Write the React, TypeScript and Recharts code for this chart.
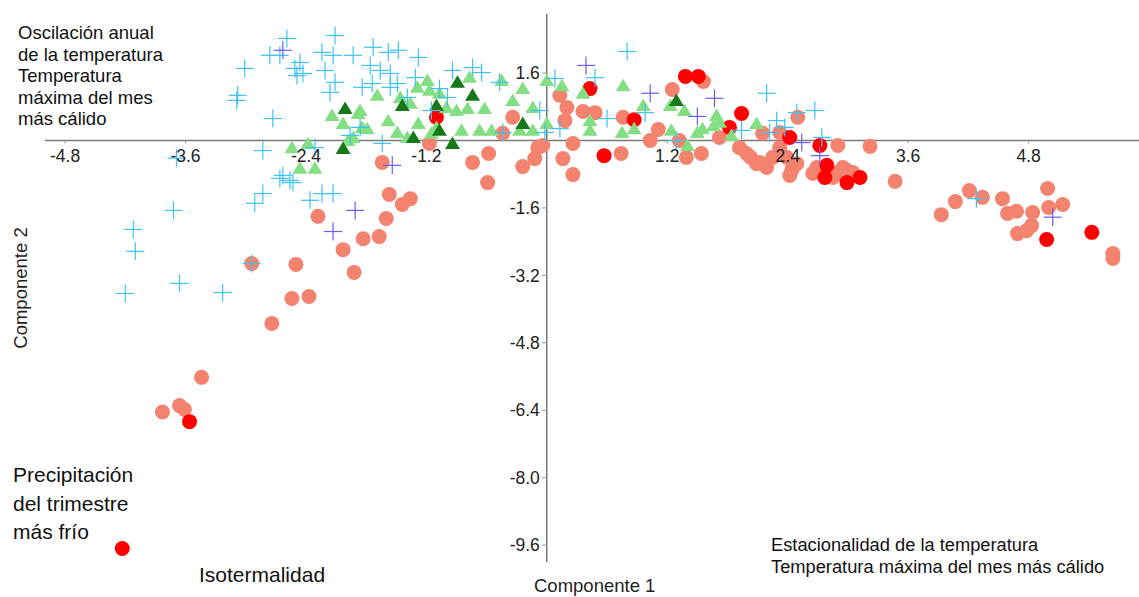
import React from 'react';
import { ScatterChart, Scatter, XAxis, YAxis, ReferenceLine, ReferenceDot } from 'recharts';

// values, [componente 1, componente 2]
const salmonPoints: [number, number][] = [
  [-3.83, -6.44], [-3.66, -6.29], [-3.61, -6.38], [-3.44, -5.62], [-2.74, -4.34], [-2.54, -3.75],
  [-2.37, -3.7], [-2.94, -2.92], [-2.5, -2.94], [-2.28, -1.8], [-2.03, -2.59], [-1.92, -3.13],
  [-1.83, -2.33], [-1.67, -2.28], [-1.6, -1.85], [-1.57, -1.28], [-1.44, -1.52], [-1.36, -1.38],
  [-1.64, -0.52], [-1.17, -0.07], [-0.74, -0.52], [-0.58, -0.31], [-0.59, -1.0], [-0.24, -0.62],
  [-0.12, -0.43], [-0.09, -0.17], [-0.04, -0.12], [-0.44, 0.17], [-0.34, 0.55], [0.13, 1.07],
  [0.2, 0.78], [0.18, 0.47], [0.36, 0.69], [0.48, 0.66], [0.26, -0.07], [0.16, -0.43],
  [0.26, -0.81], [0.74, -0.31], [0.76, 0.55], [1.03, 0.0], [1.11, 0.26], [1.25, 1.21],
  [1.56, 1.4], [1.32, 0.0], [1.39, -0.4], [1.54, -0.31], [1.72, 0.07], [1.92, -0.17],
  [1.99, -0.31], [2.12, -0.52], [2.19, -0.64], [2.25, -0.4], [2.32, -0.17], [2.45, -0.64],
  [2.5, 0.55], [2.9, -0.12], [2.65, -0.78], [2.89, -0.78], [2.99, -0.71], [3.22, -0.14],
  [2.03, -0.4], [2.09, -0.55], [2.15, 0.17], [2.32, 0.19], [2.39, -0.4], [2.44, -0.71],
  [2.42, -0.83], [2.49, -0.55], [2.69, -0.64], [2.77, -0.83], [2.85, -0.88], [2.95, -0.64],
  [3.05, -0.76], [3.47, -0.97], [3.93, -1.76], [4.07, -1.45], [4.21, -1.19], [4.34, -1.35],
  [4.54, -1.38], [4.59, -1.73], [4.68, -1.68], [4.69, -2.21], [4.78, -2.14], [4.83, -2.02],
  [4.84, -1.71], [4.99, -1.14], [5.0, -1.59], [5.14, -1.52], [5.64, -2.68], [5.64, -2.8],
];

const redPoints: [number, number][] = [
  [-3.56, -6.67], [-4.23, -9.68], [-1.1, 0.55], [0.43, 1.23], [0.57, -0.36], [0.87, 0.49],
  [1.38, 1.52], [1.51, 1.52], [1.82, 0.31], [1.94, 0.64], [2.42, 0.07], [2.72, -0.12],
  [2.79, -0.59], [2.77, -0.88], [2.99, -1.0], [3.12, -0.88], [4.98, -2.35], [5.43, -2.18],
];

const lightGreenPoints: [number, number][] = [
  [-2.14, 0.59], [-1.88, 0.64], [-2.03, 0.4], [-1.84, 0.31], [-1.79, 0.28], [-1.93, 0.07],
  [-1.98, 0.0], [-2.54, -0.17], [-2.38, -0.07], [-2.46, -0.66], [-2.31, -0.66], [-1.69, 1.07],
  [-1.86, 0.71], [-1.58, 0.47], [-1.49, 0.19], [-1.46, 1.02], [-1.36, 0.88], [-1.29, 1.26],
  [-1.28, 0.4], [-1.19, 1.42], [-1.17, 1.19], [-1.07, 1.12], [-1.0, 0.78], [-1.15, 0.17],
  [-1.1, 0.31], [-0.9, 0.71], [-0.85, 0.24], [-0.79, 0.76], [-0.77, 1.5], [-0.62, 0.76],
  [-0.67, 0.24], [-0.55, 0.24], [-0.45, 1.42], [-0.34, 0.95], [-0.24, 1.23], [-0.14, 0.78],
  [0.0, 1.42], [0.0, 0.4], [-0.27, 0.24], [-0.14, 0.24], [0.43, 0.47], [0.43, 0.24],
  [-1.39, 0.07], [0.15, 1.3], [0.36, 1.12], [0.76, 1.3], [0.75, 0.19], [0.87, 0.28],
  [0.96, 0.83], [1.23, 0.83], [1.37, 0.71], [1.5, 0.19], [1.55, 0.28], [1.4, -0.12],
  [1.69, 0.59], [1.72, 0.43], [1.84, 0.12], [2.09, 0.4], [1.24, 0.24], [1.66, 0.35],
];

const darkGreenPoints: [number, number][] = [
  [-2.01, 0.76], [-2.03, -0.19], [-1.44, 0.83], [-1.1, 0.83], [-1.07, 0.24], [-0.89, 1.38],
  [-0.74, 1.07], [-1.33, 0.07], [-0.94, -0.07], [-0.24, 0.4], [1.29, 0.95],
];

const lightBluePoints: [number, number][] = [
  [-4.12, -2.11], [-4.1, -2.63], [-4.2, -3.63], [-3.66, -3.39], [-3.23, -3.61], [-2.94, -2.92],
  [-3.72, -1.66], [-3.69, -0.42], [-2.83, -0.24], [-2.63, -0.83], [-2.56, -0.95], [-2.66, -0.9],
  [-2.53, -1.0], [-2.83, -1.26], [-2.91, -1.49], [-2.36, -1.42], [-2.24, -1.26], [-2.13, -1.26],
  [-2.31, -0.17], [-3.01, 1.71], [-3.08, 1.07], [-3.09, 0.95], [-2.73, 0.52], [-2.59, 2.42],
  [-2.76, 2.02], [-2.66, 2.02], [-2.51, 1.71], [-2.46, 1.85], [-2.49, 1.54], [-2.43, 1.59],
  [-2.11, 2.49], [-2.24, 2.09], [-2.13, 2.02], [-1.93, 2.02], [-1.73, 2.21], [-2.21, 1.66],
  [-2.11, 1.38], [-2.16, 1.14], [-1.84, 1.26], [-1.74, 1.35], [-1.86, 0.31], [-1.58, 2.09],
  [-1.48, 2.14], [-1.28, 1.97], [-1.76, 1.78], [-1.66, 1.66], [-1.56, 1.59], [-1.49, 1.35],
  [-1.56, 1.26], [-1.39, 1.02], [-1.31, 1.49], [-0.94, 1.66], [-0.74, 1.73], [-0.65, 1.61],
  [-1.07, 1.23], [-0.99, 1.02], [-1.15, 0.71], [-0.47, 1.38], [-0.07, 0.71], [-0.02, 0.19],
  [-0.44, 0.19], [-1.64, -0.07], [-1.96, 0.12], [0.08, 1.47], [0.48, 1.49], [0.8, 2.11],
  [0.98, 0.66], [0.6, 0.52], [0.13, 0.28], [2.19, 1.12], [2.29, 0.47], [2.37, 0.31],
  [2.49, 0.66], [2.67, 0.71], [2.74, 0.07], [1.29, 0.0], [1.94, 0.24], [2.22, 0.19],
  [4.28, -1.38],
];

const purplePoints: [number, number][] = [
  [-2.63, 2.14], [-1.91, -1.66], [-2.13, -2.16], [-1.54, -0.59], [0.39, 1.78], [1.03, 1.12],
  [1.67, 1.0], [1.5, 0.57], [2.54, -0.05], [2.72, -0.36], [5.04, -1.82],
];

const xTicks = [-4.8, -3.6, -2.4, -1.2, 1.2, 2.4, 3.6, 4.8];
const yTicks = [1.6, -1.6, -3.2, -4.8, -6.4, -8.0, -9.6];

const toRows = (pts: [number, number][]) => pts.map(([x, y]) => ({ x, y }));

const FONT = 'Arial, "Liberation Sans", sans-serif';

const circleShape = (color: string) => (p: any) => (
  <circle cx={p.cx} cy={p.cy} r={7.5} fill={color} />
);

const triangleShape = (color: string) => (p: any) => (
  <polygon
    points={`${p.cx},${p.cy - 7} ${p.cx - 7.5},${p.cy + 5.5} ${p.cx + 7.5},${p.cy + 5.5}`}
    fill={color}
  />
);

const crossShape = (color: string) => (p: any) => (
  <g stroke={color} strokeWidth={1.2}>
    <line x1={p.cx - 9} y1={p.cy} x2={p.cx + 9} y2={p.cy} />
    <line x1={p.cx} y1={p.cy - 9} x2={p.cx} y2={p.cy + 9} />
  </g>
);

const textStyle: React.CSSProperties = {
  position: 'absolute',
  fontFamily: FONT,
  color: '#111',
  whiteSpace: 'nowrap',
};

export default function App() {
  return (
    <div style={{ position: 'absolute', left: 0, top: 0, width: 1139, height: 597, background: '#fff', overflow: 'hidden' }}>
      <ScatterChart width={1139} height={597} margin={{ top: 14, right: 0, bottom: 35, left: 45 }}>
        <XAxis type="number" dataKey="x" domain={[-5, 5.9]} allowDataOverflow hide />
        <YAxis type="number" dataKey="y" domain={[-10, 3]} allowDataOverflow hide />

        <ReferenceLine y={0} stroke="#7a7a7a" strokeWidth={1.5} />
        <ReferenceLine x={0} stroke="#333" strokeWidth={1} />

        {xTicks.map((t) => (
          <ReferenceLine key={`xt${t}`} segment={[{ x: t, y: 0 }, { x: t, y: -0.07 }]} stroke="#999" />
        ))}
        {yTicks.map((t) => (
          <ReferenceLine key={`yt${t}`} segment={[{ x: -0.05, y: t }, { x: 0, y: t }]} stroke="#999" />
        ))}
        {xTicks.map((t) => (
          <ReferenceDot
            key={`xl${t}`}
            x={t}
            y={0}
            r={0}
            fill="none"
            stroke="none"
            label={{ value: t.toFixed(1), position: 'bottom', offset: 9, fontSize: 17.5, fill: '#222', fontFamily: FONT }}
          />
        ))}
        {yTicks.map((t) => (
          <ReferenceDot
            key={`yl${t}`}
            x={0}
            y={t}
            r={0}
            fill="none"
            stroke="none"
            label={{ value: t.toFixed(1), position: 'left', offset: 7, fontSize: 17.5, fill: '#222', fontFamily: FONT }}
          />
        ))}

        <Scatter data={toRows(salmonPoints)} shape={circleShape('#f3826f')} isAnimationActive={false} />
        <Scatter data={toRows(redPoints)} shape={circleShape('#ff0000')} isAnimationActive={false} />
        <Scatter data={toRows(lightGreenPoints)} shape={triangleShape('#84df84')} isAnimationActive={false} />
        <Scatter data={toRows(darkGreenPoints)} shape={triangleShape('#17781a')} isAnimationActive={false} />
        <Scatter data={toRows(lightBluePoints)} shape={crossShape('#3fc2f2')} isAnimationActive={false} />
        <Scatter data={toRows(purplePoints)} shape={crossShape('#6a5ef0')} isAnimationActive={false} />
      </ScatterChart>

      <div style={{ ...textStyle, left: 18, top: 22, fontSize: 18.5, lineHeight: '21.5px' }}>
        Oscilación anual<br />de la temperatura<br />Temperatura<br />máxima del mes<br />más cálido
      </div>
      <div style={{ ...textStyle, left: 13, top: 461, fontSize: 21, lineHeight: '28.5px' }}>
        Precipitación<br />del trimestre<br />más frío
      </div>
      <div style={{ ...textStyle, left: 199, top: 563, fontSize: 21, lineHeight: '24px' }}>Isotermalidad</div>
      <div style={{ ...textStyle, left: 771, top: 534, fontSize: 18.3, lineHeight: '22px' }}>
        Estacionalidad de la temperatura<br />Temperatura máxima del mes más cálido
      </div>
      <div style={{ ...textStyle, left: 534, top: 576, fontSize: 18.5, lineHeight: '20px', color: '#222' }}>Componente 1</div>
      <div
        style={{
          ...textStyle,
          left: 21,
          top: 288,
          fontSize: 18.5,
          lineHeight: '22px',
          color: '#222',
          transform: 'translate(-50%, -50%) rotate(-90deg)',
        }}
      >
        Componente 2
      </div>
    </div>
  );
}
